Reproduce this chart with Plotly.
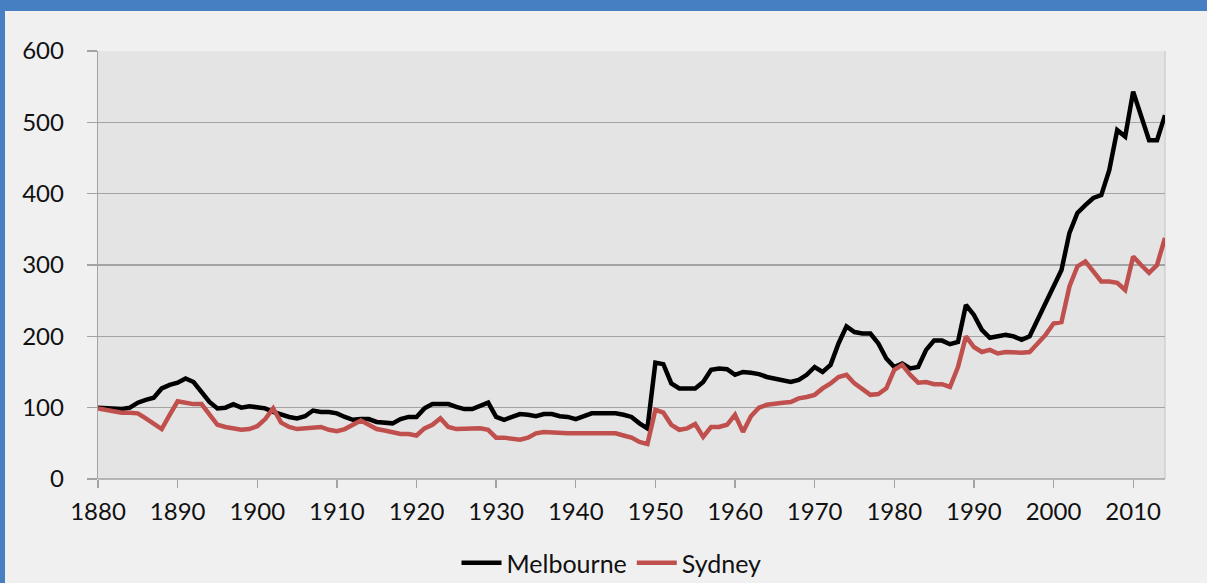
import plotly.graph_objects as go

years = list(range(1880, 2015))

melbourne = [
    100, 99, 98, 98, 100, 107, 111, 114, 127, 132,   # 1880-1889
    135, 141, 136, 122, 108, 99, 100, 105, 100, 102,  # 1890-1899
    100, 99, 94, 90, 87, 85, 88, 96, 94, 94,          # 1900-1909
    92, 87, 83, 84, 84, 80, 79, 78, 84, 87,           # 1910-1919
    87, 99, 105, 105, 105, 101, 98, 98, 102, 107,     # 1920-1929
    87, 83, 87, 91, 90, 88, 91, 91, 88, 87,           # 1930-1939
    84, 88, 92, 92, 92, 92, 90, 87, 78, 71,           # 1940-1949
    163, 161, 134, 127, 127, 127, 136, 153, 155, 154, # 1950-1959
    146, 150, 149, 147, 143, 141, 138, 136, 139, 146, # 1960-1969
    157, 150, 160, 190, 214, 206, 204, 204, 190, 169, # 1970-1979
    157, 162, 155, 157, 181, 194, 194, 189, 192, 244, # 1980-1989
    230, 209, 198, 200, 202, 200, 195, 200, 223, 246, # 1990-1999
    270, 293, 345, 373, 384, 394, 398, 433, 489, 480, # 2000-2009
    543, 508, 475, 475, 510,                          # 2010-2014
]

sydney = [
    99, 97, 94, 93, 93, 92, 85, 78, 70, 90,           # 1880-1889
    109, 107, 105, 105, 90, 76, 73, 71, 69, 70,       # 1890-1899
    74, 84, 99, 79, 73, 70, 71, 71, 73, 69,           # 1900-1909
    67, 70, 76, 82, 76, 70, 68, 65, 63, 63,           # 1910-1919
    61, 71, 76, 85, 73, 70, 70, 71, 71, 69,           # 1920-1929
    58, 58, 57, 55, 58, 64, 66, 65, 64, 64,           # 1930-1939
    64, 64, 64, 64, 64, 64, 61, 58, 52, 49,           # 1940-1949
    97, 93, 76, 69, 71, 77, 59, 73, 73, 76,           # 1950-1959
    90, 66, 88, 100, 104, 106, 107, 108, 113, 115,    # 1960-1969
    118, 127, 134, 143, 146, 134, 125, 118, 119, 127, # 1970-1979
    153, 160, 146, 135, 136, 133, 133, 129, 157, 200, # 1980-1989
    185, 178, 181, 176, 178, 177, 177, 178, 190, 202, # 1990-1999
    218, 220, 270, 298, 305, 291, 277, 277, 275, 265, # 2000-2009
    312, 300, 289, 300, 338,                          # 2010-2014
]

y_ticks = [0, 100, 200, 300, 400, 500, 600]
x_ticks = list(range(1880, 2011, 10))

FONT = "Lato, 'Open Sans', sans-serif"
TXT = "#111111"
GRID = "#a3a3a3"
BLUE = "#4680c2"

fig = go.Figure()
fig.add_trace(go.Scatter(x=years, y=melbourne, mode="lines", name="Melbourne",
                         line=dict(color="#000000", width=4.5)))
fig.add_trace(go.Scatter(x=years, y=sydney, mode="lines", name="Sydney",
                         line=dict(color="#c0504d", width=4.5)))

L, R, T, B = 98, 42, 51, 104
W, H = 1207, 583
pw, ph = W - L - R, H - T - B

def px(xp):
    return (xp - L) / pw

def py(yp):
    return (H - B - yp) / ph

fig.update_layout(
    template="none",
    width=W, height=H,
    margin=dict(l=L, r=R, t=T, b=B, pad=0, autoexpand=False),
    paper_bgcolor="#f0f0f0",
    plot_bgcolor="#e4e4e4",
    font=dict(family=FONT, size=24, color=TXT),
    showlegend=True,
    legend=dict(orientation="h", xref="container", yref="container",
                x=611.5 / W, xanchor="center", y=1 - 563 / H, yanchor="middle",
                bgcolor="rgba(0,0,0,0)", borderwidth=0,
                font=dict(family=FONT, size=25, color=TXT),
                itemwidth=40, tracegroupgap=0),
    hovermode=False,
    xaxis=dict(range=[1880, 2014], tickmode="array", tickvals=x_ticks,
               ticktext=[str(v) for v in x_ticks], automargin=False,
               showgrid=False, zeroline=False, showline=False,
               ticks="outside", ticklen=8, tickcolor=GRID, tickwidth=1.3,
               ticklabelstandoff=3,
               tickfont=dict(family=FONT, size=24, color=TXT)),
    yaxis=dict(range=[0, 600], tickmode="array", tickvals=y_ticks,
               ticktext=[str(v) for v in y_ticks], automargin=False,
               showgrid=True, gridcolor=GRID, gridwidth=1.3,
               zeroline=False, showline=True, linecolor=GRID, linewidth=1.3,
               ticks="outside", ticklen=10, tickcolor=GRID, tickwidth=1.3,
               ticklabelstandoff=18,
               tickfont=dict(family=FONT, size=24, color=TXT)),
    shapes=[
        dict(type="line", xref="paper", yref="paper", x0=1, x1=1, y0=0, y1=1,
             line=dict(color="#c4c4c4", width=1), layer="below"),
        dict(type="line", xref="paper", yref="paper", x0=0, x1=1, y0=0, y1=0,
             line=dict(color=GRID, width=1.3), layer="below"),
        dict(type="rect", xref="paper", yref="paper", x0=px(0), x1=px(W), y0=py(11), y1=py(0),
             fillcolor=BLUE, line=dict(width=0), layer="above"),
        dict(type="rect", xref="paper", yref="paper", x0=px(0), x1=px(5), y0=py(H), y1=py(0),
             fillcolor=BLUE, line=dict(width=0), layer="above"),
    ],
)

fig.write_html("out.html",
               config={"displayModeBar": False, "staticPlot": True},
               post_script="document.body.style.margin='0';document.body.style.overflow='hidden';")
